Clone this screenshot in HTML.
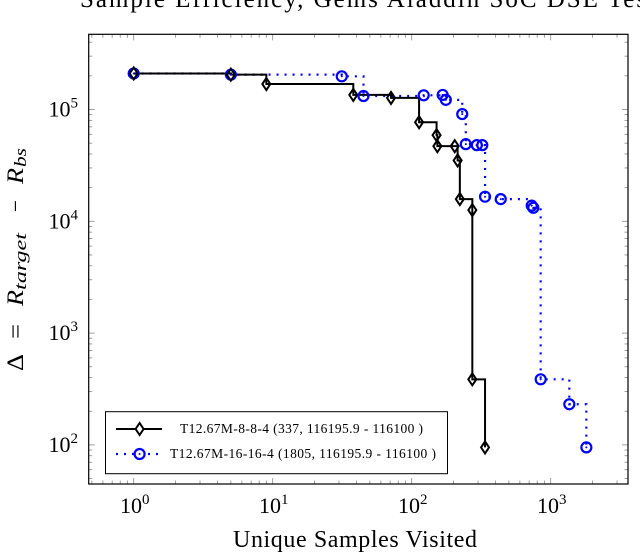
<!DOCTYPE html>
<html><head><meta charset="utf-8">
<style>
html,body{margin:0;padding:0;background:#fff;}
svg{display:block;}
text{font-family:"Liberation Serif",serif;}
</style></head>
<body>
<svg id="chart" width="640" height="554" viewBox="0 0 640 554" xmlns="http://www.w3.org/2000/svg">
<text x="80" y="7" font-size="25" textLength="575" lengthAdjust="spacing">Sample Efficiency, Gems Aladdin SoC DSE Test</text>
<g id="ticks"></g>
<g id="series"></g>
<rect x="88.7" y="34.3" width="539.3" height="449.7" fill="none" stroke="#000" stroke-width="1.2"/>
<g id="labels"></g>
<text x="233" y="547" font-size="24" textLength="244" lengthAdjust="spacing">Unique Samples Visited</text>
<g transform="rotate(-90)" font-size="23">
<text x="-371" y="23" textLength="17" lengthAdjust="spacingAndGlyphs">Δ</text>
<text x="-339" y="23" textLength="15" lengthAdjust="spacingAndGlyphs">=</text>
<text x="-306" y="23" font-style="italic" textLength="16" lengthAdjust="spacingAndGlyphs">R</text>
<text x="-290" y="26" font-style="italic" font-size="17" textLength="57" lengthAdjust="spacingAndGlyphs">target</text>
<text x="-212" y="23" textLength="12" lengthAdjust="spacingAndGlyphs">−</text>
<text x="-184" y="23" font-style="italic" textLength="16" lengthAdjust="spacingAndGlyphs">R</text>
<text x="-167" y="26" font-style="italic" font-size="17" textLength="19" lengthAdjust="spacingAndGlyphs">bs</text>
</g>
<g>
<rect x="105.5" y="411.7" width="342" height="62" fill="#fff" stroke="#000" stroke-width="1"/>
<line x1="116" y1="429" x2="162" y2="429" stroke="#000" stroke-width="2"/>
<path d="M139.6 423 L143.6 429 L139.6 435 L135.6 429 Z" fill="#fff" stroke="#000" stroke-width="2"/>
<text x="180" y="433" font-size="13.5" textLength="243" lengthAdjust="spacing">T12.67M-8-8-4 (337, 116195.9 - 116100 )</text>
<line x1="116" y1="454" x2="162" y2="454" stroke="#00f" stroke-width="2.2" stroke-dasharray="2,6"/>
<circle cx="139.6" cy="454" r="5" fill="#fff" stroke="#00f" stroke-width="2.2"/>
<circle cx="139.6" cy="454" r="1" fill="#00f"/>
<text x="170" y="458" font-size="13.5" textLength="266" lengthAdjust="spacing">T12.67M-16-16-4 (1805, 116195.9 - 116100 )</text>
</g>
</svg>
<script>
const xDecades = [0, 1, 2, 3];
const yDecades = [2, 3, 4, 5];
const blackX = [1, 5, 9, 38, 71, 113, 151, 153, 204, 214, 222, 273, 273, 337];
const blackY = [210000, 205000, 169000, 135000, 127000, 77000, 59000, 47000, 47000, 35000, 15800, 12600, 386, 95];
const blueX = [1, 5, 31.4, 45, 122, 167, 176, 231, 245, 294, 322, 337, 437, 730, 750, 847, 1361, 1805];
const blueY = [210000, 205000, 198000, 132000, 134000, 135000, 122000, 91000, 49000, 48000, 48000, 16600, 15800, 13800, 13200, 386, 231, 95];

const NS = "http://www.w3.org/2000/svg";
const X0 = 133.7, XD = 139, Y5 = 109.5, YD = 111.8;
const L = 88.7, R = 628, T = 34.3, B = 484;
function sx(v){ return X0 + Math.log10(v) * XD; }
function sy(v){ return Y5 - (Math.log10(v) - 5) * YD; }
function mk(tag, attrs, parent){
  const e = document.createElementNS(NS, tag);
  for (const k in attrs) e.setAttribute(k, attrs[k]);
  parent.appendChild(e);
  return e;
}
const tg = document.getElementById('ticks');
const lg = document.getElementById('labels');
for (let d = -1; d <= 3; d++) {
  for (let m = 1; m <= 9; m++) {
    const x = sx(m * Math.pow(10, d));
    if (x < L || x > R) continue;
    const len = m === 1 ? 6 : 3.5;
    const t1 = mk('line', {x1:x, y1:B, x2:x, y2:B-len, stroke:'#888', 'stroke-width':0.8}, tg);
    
    
    const t2 = mk('line', {x1:x, y1:T, x2:x, y2:T+len, stroke:'#888', 'stroke-width':0.8}, tg);
    
    
  }
}
for (let d = 1; d <= 5; d++) {
  for (let m = 1; m <= 9; m++) {
    const y = sy(m * Math.pow(10, d));
    if (y < T || y > B) continue;
    const len = m === 1 ? 6 : 3.5;
    const t1 = mk('line', {x1:L, y1:y, x2:L+len, y2:y, stroke:'#888', 'stroke-width':0.8}, tg);
    
    
    const t2 = mk('line', {x1:R, y1:y, x2:R-len, y2:y, stroke:'#888', 'stroke-width':0.8}, tg);
    
    
  }
}
xDecades.forEach(function(d){
  const t = mk('text', {x: sx(Math.pow(10,d)) + 1, y: 513, 'font-size': 22, 'text-anchor': 'middle'}, lg);
  
  
  t.innerHTML = '10<tspan dy="-9" font-size="15">' + d + '</tspan>';
});
yDecades.forEach(function(d){
  const t = mk('text', {x: 78, y: sy(Math.pow(10,d)) + 7, 'font-size': 22, 'text-anchor': 'end'}, lg);
  
  
  t.innerHTML = '10<tspan dy="-9" font-size="15">' + d + '</tspan>';
});
function stepPath(xs, ys){
  let d = 'M' + sx(xs[0]) + ' ' + sy(ys[0]);
  for (let i = 1; i < xs.length; i++) {
    d += ' H' + sx(xs[i]) + ' V' + sy(ys[i]);
  }
  return d;
}
const sg = document.getElementById('series');
const bl = mk('path', {d: stepPath(blueX, blueY), fill:'none', stroke:'#00f', 'stroke-width':2.2, 'stroke-dasharray':'2,6'}, sg);


const kl = mk('path', {d: stepPath(blackX, blackY), fill:'none', stroke:'#000', 'stroke-width':2}, sg);


blueX.forEach(function(v, i){
  const cx = sx(v), cy = sy(blueY[i]);
  const c = mk('circle', {cx:cx, cy:cy, r:5, fill:'none', stroke:'#00f', 'stroke-width':2.2}, sg);
  
  
  mk('circle', {cx:cx, cy:cy, r:1, fill:'#00f'}, sg);
});
blackX.forEach(function(v, i){
  const x = sx(v), y = sy(blackY[i]);
  const p = mk('path', {d:'M'+x+' '+(y-6)+' L'+(x+4)+' '+y+' L'+x+' '+(y+6)+' L'+(x-4)+' '+y+' Z', fill:'none', stroke:'#000', 'stroke-width':2}, sg);
  
  
});
</script>
</body></html>
